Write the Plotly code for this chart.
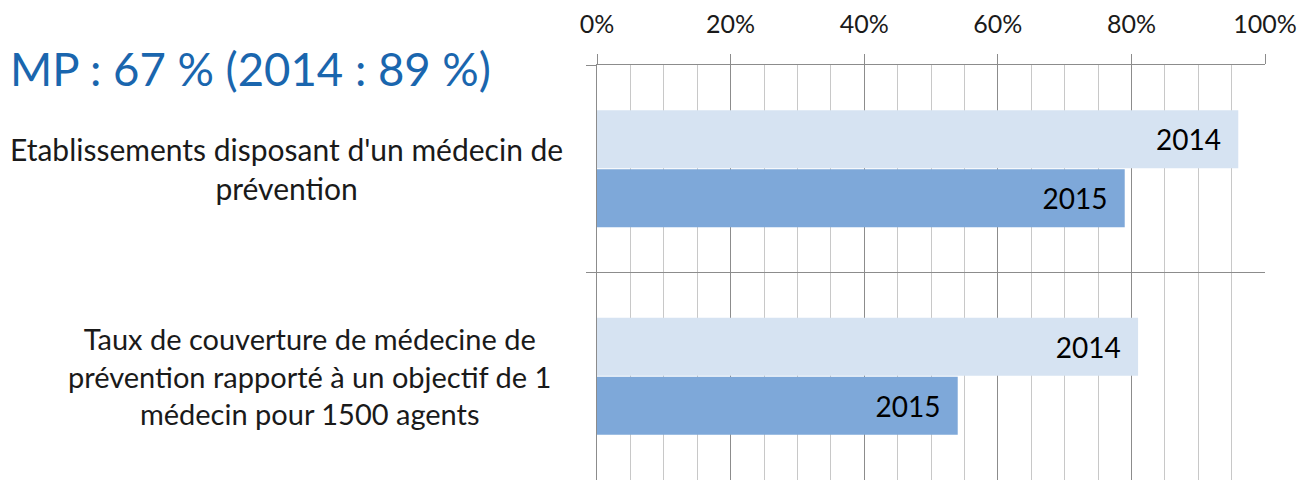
import plotly.graph_objects as go

# données
categories = ["Etablissements disposant d'un médecin de<br>prévention",
              "Taux de couverture de médecine de<br>prévention rapporté à un objectif de 1<br>médecin pour 1500 agents"]
cat_keys = ["etab", "taux"]
vals_2014 = [0.96, 0.81]
vals_2015 = [0.79, 0.54]
series_names = ["2014", "2015"]
title_text = "MP : 67 % (2014 : 89 %)"

FONT = "Lato"

fig = go.Figure()
fig.add_trace(go.Bar(
    y=cat_keys, x=vals_2014, orientation="h", name=series_names[0],
    marker=dict(color="#D6E3F2", line=dict(width=0)),
    text=[series_names[0]] * 2, texttemplate="%{text}\u00a0\u00a0",
    textposition="inside", insidetextanchor="end",
    textfont=dict(family=FONT, size=28, color="#000000"),
))
fig.add_trace(go.Bar(
    y=cat_keys, x=vals_2015, orientation="h", name=series_names[1],
    marker=dict(color="#7EA8D9", line=dict(width=0)),
    text=[series_names[1]] * 2, texttemplate="%{text}\u00a0\u00a0",
    textposition="inside", insidetextanchor="end",
    textfont=dict(family=FONT, size=28, color="#000000"),
))

# libellés des catégories (centrés)
label_right = [565, 553]
label_size = [30, 29]
for key, lab, xr, fs in zip(cat_keys, categories, label_right, label_size):
    fig.add_annotation(
        x=(xr - 597) / 668, xref="paper", y=key, yref="y",
        text=lab, showarrow=False, xanchor="right", yanchor="middle",
        align="center", font=dict(family=FONT, size=fs, color="#1a1a1a"),
    )

fig.add_annotation(
    x=(493 - 597) / 668, xref="paper", y=(480 - 68) / 415, yref="paper",
    text=title_text, showarrow=False, xanchor="right", yanchor="middle",
    font=dict(family=FONT, size=45.5, color="#1A66AE"),
)

fig.update_layout(
    width=1314, height=480,
    margin=dict(l=597, r=49, t=65, b=0),
    paper_bgcolor="white", plot_bgcolor="white",
    barmode="group", bargap=0.43, bargroupgap=0.02,
    showlegend=False,
    xaxis=dict(
        side="top", range=[0, 1], tickformat=".0%", dtick=0.2,
        showgrid=True, gridcolor="#8C8C8C", gridwidth=1,
        ticks="outside", ticklen=10, tickcolor="#8C8C8C",
        ticklabelstandoff=11,
        tickfont=dict(family=FONT, size=25, color="#1a1a1a"),
        showline=True, linecolor="#8C8C8C", zeroline=False,
        minor=dict(dtick=0.05, showgrid=True, gridcolor="#C8C8C8", gridwidth=1),
    ),
    yaxis=dict(
        autorange="reversed", tickson="boundaries",
        showgrid=True, gridcolor="#8C8C8C",
        ticks="outside", ticklen=10, tickcolor="#8C8C8C",
        showticklabels=False, showline=True, linecolor="#8C8C8C",
    ),
)

# sans la marge par défaut de la page
fig.write_html("out.html", config={"displayModeBar": False},
               post_script="document.body.style.margin='0';")
